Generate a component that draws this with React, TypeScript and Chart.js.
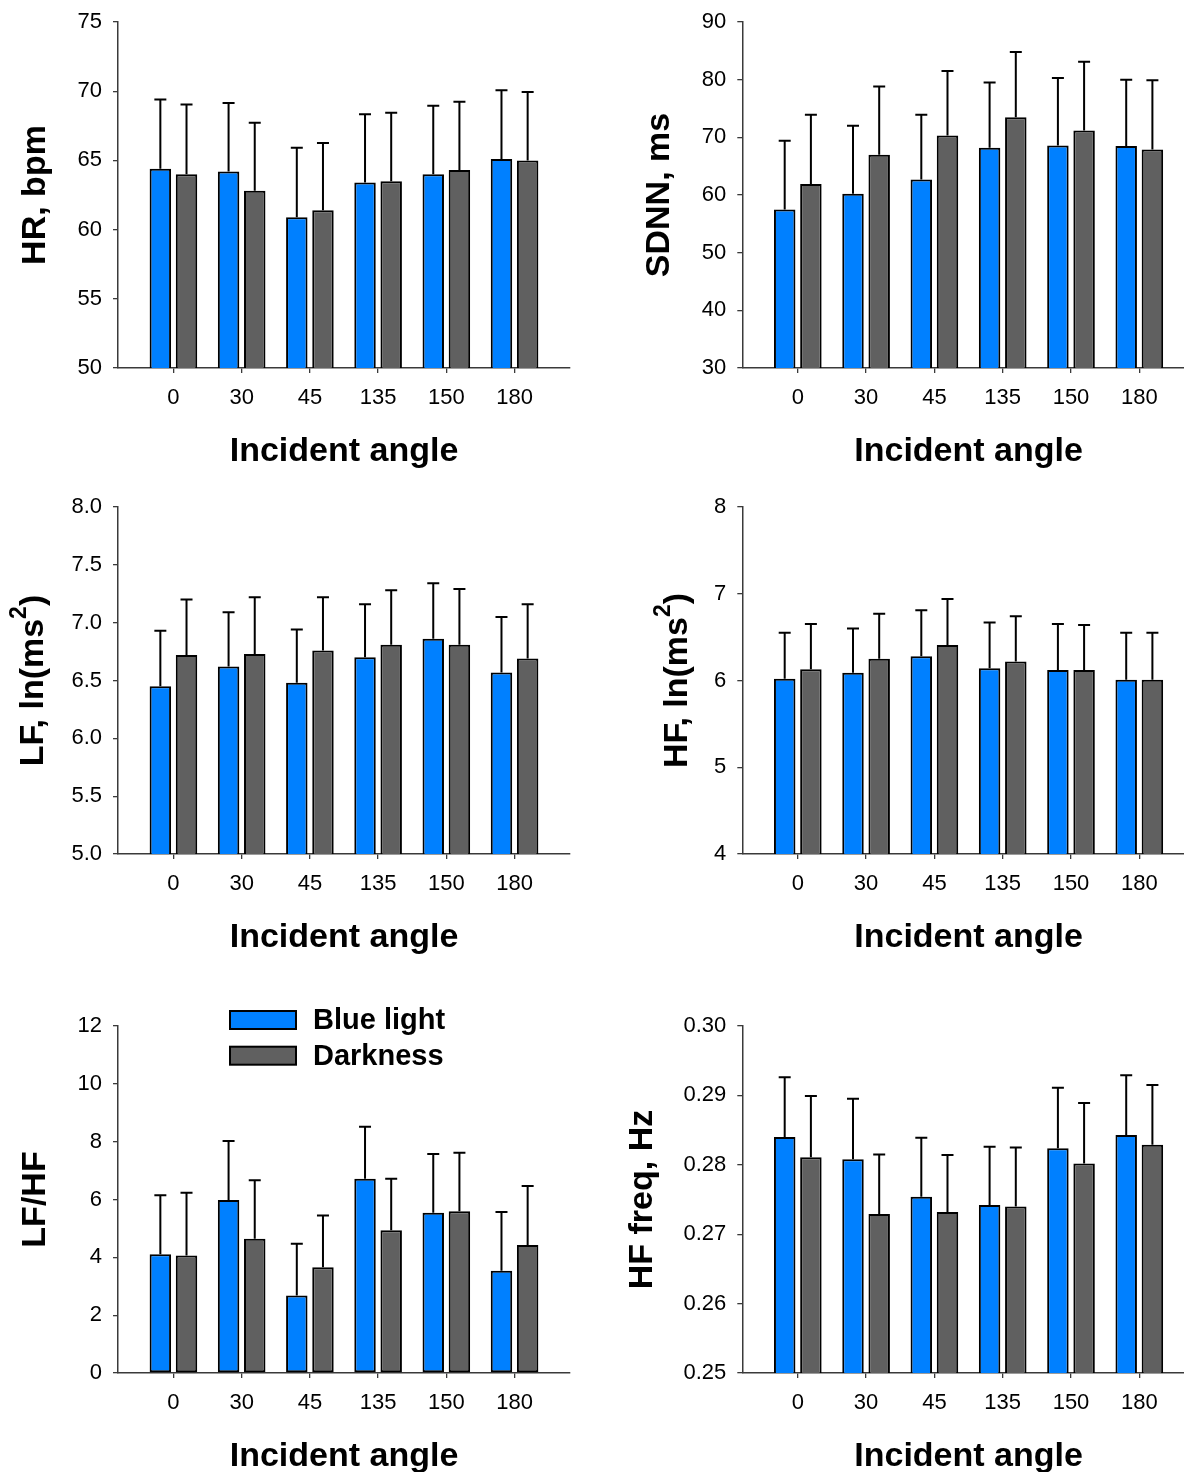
import React, { useEffect, useRef } from 'react';
import { Chart, registerables } from 'chart.js';

Chart.register(...registerables);
Chart.defaults.font.family = '"Liberation Sans", Arial, sans-serif';

// ---------------- data ----------------
const angles = ['0', '30', '45', '135', '150', '180'];
const seriesNames = ['Blue light', 'Darkness'];
const xTitle = 'Incident angle';

const hrBlue = [64.4, 64.2, 60.9, 63.4, 64.0, 65.1];
const hrBlueSD = [5.0, 4.95, 5.02, 4.94, 4.95, 4.97];
const hrDark = [64.0, 62.8, 61.4, 63.5, 64.3, 65.0];
const hrDarkSD = [5.03, 4.92, 4.85, 4.95, 4.94, 4.95];

const sdnnBlue = [57.5, 60.2, 62.7, 68.2, 68.6, 68.5];
const sdnnBlueSD = [11.9, 11.8, 11.2, 11.3, 11.7, 11.5];
const sdnnDark = [61.9, 67.0, 70.3, 73.5, 71.2, 67.9];
const sdnnDarkSD = [12.0, 11.8, 11.2, 11.3, 11.9, 12.0];

const lfBlue = [6.45, 6.62, 6.48, 6.7, 6.86, 6.57];
const lfBlueSD = [0.48, 0.47, 0.46, 0.46, 0.48, 0.48];
const lfDark = [6.72, 6.73, 6.76, 6.81, 6.81, 6.69];
const lfDarkSD = [0.48, 0.49, 0.46, 0.47, 0.48, 0.47];

const hfBlue = [6.02, 6.09, 6.28, 6.14, 6.12, 6.01];
const hfBlueSD = [0.53, 0.51, 0.53, 0.53, 0.53, 0.54];
const hfDark = [6.13, 6.25, 6.41, 6.22, 6.12, 6.01];
const hfDarkSD = [0.52, 0.52, 0.53, 0.52, 0.52, 0.54];

const ratioBlue = [4.11, 5.98, 2.68, 6.72, 5.54, 3.54];
const ratioBlueSD = [2.04, 2.04, 1.79, 1.8, 2.03, 2.03];
const ratioDark = [4.06, 4.64, 3.66, 4.94, 5.59, 4.43];
const ratioDarkSD = [2.17, 2.03, 1.79, 1.78, 2.03, 2.04];

const hffBlue = [0.284, 0.2808, 0.2754, 0.2742, 0.2824, 0.2843];
const hffBlueSD = [0.0086, 0.0087, 0.0085, 0.0084, 0.0087, 0.0086];
const hffDark = [0.2811, 0.2729, 0.2732, 0.274, 0.2802, 0.2829];
const hffDarkSD = [0.0088, 0.0086, 0.0082, 0.0085, 0.0087, 0.0086];

// y-axis titles ('^' marks a superscript character)
const yTitles = ['HR, bpm', 'SDNN, ms', 'LF, ln(ms^2)', 'HF, ln(ms^2)', 'LF/HF', 'HF freq, Hz'];

// ---------------- layout / style ----------------
const BLUE = '#0080FF';
const DARK = '#606060';
const AXIS = '#3a3a3a';
const TOP_PAD = 40;
const X_AXIS_H = 125;

const COLS = [
  { left: 0, width: 592, l: 118, r: 570 },
  { left: 592, width: 620, l: 150.3, r: 602.8 },
];
// absolute top / bottom of each row's plot area
const ROWS = [
  { T: 22.3, B: 368 },
  { T: 506.7, B: 853.3 },
  { T: 1026, B: 1372.7 },
];

type PanelDef = {
  col: number;
  row: number;
  yMin: number;
  yMax: number;
  yStep: number;
  dec: number;
  yTitle: string;
  yTitleX: number;
  blue: number[];
  blueSD: number[];
  dark: number[];
  darkSD: number[];
  legend?: boolean;
};

const PANELS: PanelDef[] = [
  { col: 0, row: 0, yMin: 50, yMax: 75, yStep: 5, dec: 0, yTitle: yTitles[0], yTitleX: 36, blue: hrBlue, blueSD: hrBlueSD, dark: hrDark, darkSD: hrDarkSD },
  { col: 1, row: 0, yMin: 30, yMax: 90, yStep: 10, dec: 0, yTitle: yTitles[1], yTitleX: 68, blue: sdnnBlue, blueSD: sdnnBlueSD, dark: sdnnDark, darkSD: sdnnDarkSD },
  { col: 0, row: 1, yMin: 5, yMax: 8, yStep: 0.5, dec: 1, yTitle: yTitles[2], yTitleX: 34, blue: lfBlue, blueSD: lfBlueSD, dark: lfDark, darkSD: lfDarkSD },
  { col: 1, row: 1, yMin: 4, yMax: 8, yStep: 1, dec: 0, yTitle: yTitles[3], yTitleX: 86, blue: hfBlue, blueSD: hfBlueSD, dark: hfDark, darkSD: hfDarkSD },
  { col: 0, row: 2, yMin: 0, yMax: 12, yStep: 2, dec: 0, yTitle: yTitles[4], yTitleX: 36, blue: ratioBlue, blueSD: ratioBlueSD, dark: ratioDark, darkSD: ratioDarkSD, legend: true },
  { col: 1, row: 2, yMin: 0.25, yMax: 0.3, yStep: 0.01, dec: 2, yTitle: yTitles[5], yTitleX: 51, blue: hffBlue, blueSD: hffBlueSD, dark: hffDark, darkSD: hffDarkSD },
];

const TITLE_SIZE = 34;
const TICK_SIZE = 22;

function drawRichText(ctx: CanvasRenderingContext2D, text: string, size: number) {
  const parts: { t: string; sup: boolean }[] = [];
  const idx = text.indexOf('^');
  if (idx >= 0) {
    parts.push({ t: text.slice(0, idx), sup: false });
    parts.push({ t: text.charAt(idx + 1), sup: true });
    parts.push({ t: text.slice(idx + 2), sup: false });
  } else parts.push({ t: text, sup: false });
  const mainFont = `bold ${size}px "Liberation Sans", Arial, sans-serif`;
  const supFont = `bold ${Math.round(size * 0.68)}px "Liberation Sans", Arial, sans-serif`;
  let total = 0;
  const widths = parts.map((p) => {
    ctx.font = p.sup ? supFont : mainFont;
    const w = ctx.measureText(p.t).width;
    total += w;
    return w;
  });
  let x = -total / 2;
  ctx.textAlign = 'left';
  ctx.textBaseline = 'middle';
  parts.forEach((p, i) => {
    ctx.font = p.sup ? supFont : mainFont;
    ctx.fillText(p.t, x, p.sup ? -size * 0.42 : 0);
    x += widths[i];
  });
}

function makeExtras(def: PanelDef) {
  return {
    id: 'extras',
    afterDatasetsDraw(chart: any) {
      const ctx = chart.ctx as CanvasRenderingContext2D;
      const yScale = chart.scales.y;
      ctx.save();
      ctx.strokeStyle = '#000';
      ctx.lineWidth = 2;
      chart.data.datasets.forEach((ds: any, di: number) => {
        const meta = chart.getDatasetMeta(di);
        meta.data.forEach((el: any, i: number) => {
          const v = ds.data[i].y;
          const yTop = yScale.getPixelForValue(v + ds.errors[i]);
          ctx.beginPath();
          ctx.moveTo(el.x, el.y);
          ctx.lineTo(el.x, yTop);
          ctx.moveTo(el.x - 6, yTop);
          ctx.lineTo(el.x + 6, yTop);
          ctx.stroke();
        });
      });
      ctx.restore();
    },
    afterDraw(chart: any) {
      const ctx = chart.ctx as CanvasRenderingContext2D;
      const area = chart.chartArea;
      ctx.save();
      ctx.fillStyle = '#000';
      const xc = chart.scales.x.getPixelForValue((angles.length - 1) / 2);
      ctx.save();
      ctx.translate(xc, area.bottom + 84);
      drawRichText(ctx, xTitle, TITLE_SIZE);
      ctx.restore();
      ctx.save();
      ctx.translate(def.yTitleX, (area.top + area.bottom) / 2);
      ctx.rotate(-Math.PI / 2);
      drawRichText(ctx, def.yTitle, TITLE_SIZE);
      ctx.restore();
      if (def.legend) {
        const rows = [area.top - 15, area.top + 20.7];
        chart.data.datasets.forEach((ds: any, i: number) => {
          const y0 = rows[i];
          ctx.fillStyle = ds.backgroundColor;
          ctx.fillRect(230, y0, 66, 18);
          ctx.strokeStyle = '#000';
          ctx.lineWidth = 2;
          ctx.strokeRect(230, y0, 66, 18);
          ctx.fillStyle = '#000';
          ctx.font = 'bold 29px "Liberation Sans", Arial, sans-serif';
          ctx.textAlign = 'left';
          ctx.textBaseline = 'middle';
          ctx.fillText(ds.label, 313, y0 + 10);
        });
      }
      ctx.restore();
    },
  };
}

function Panel({ def }: { def: PanelDef }) {
  const ref = useRef<HTMLCanvasElement>(null);
  const col = COLS[def.col];
  const row = ROWS[def.row];
  const canvasTop = row.T - TOP_PAD;
  const canvasH = row.B - row.T + TOP_PAD + X_AXIS_H;
  useEffect(() => {
    if (!ref.current) return;
    const mk = (vals: number[]) => vals.map((v, i) => ({ x: i, y: v }));
    const barStyle = {
      borderColor: '#000',
      borderWidth: 2,
      borderSkipped: false,
      categoryPercentage: 0.767,
      barPercentage: 0.82,
    };
    const chart = new Chart(ref.current, {
      type: 'bar',
      data: {
        datasets: [
          { label: seriesNames[0], data: mk(def.blue), errors: def.blueSD, backgroundColor: BLUE, ...barStyle } as any,
          { label: seriesNames[1], data: mk(def.dark), errors: def.darkSD, backgroundColor: DARK, ...barStyle } as any,
        ],
      },
      options: {
        animation: false,
        responsive: false,
        maintainAspectRatio: false,
        layout: { padding: { top: TOP_PAD, right: col.width - col.r, left: 0, bottom: 0 } },
        plugins: { legend: { display: false }, tooltip: { enabled: false } },
        scales: {
          x: {
            type: 'linear',
            min: -0.8125,
            max: angles.length - 1 + 0.8125,
            offset: false,
            afterBuildTicks: (s: any) => {
              s.ticks = angles.map((_, i) => ({ value: i }));
            },
            afterFit: (s: any) => {
              s.height = X_AXIS_H;
            },
            ticks: {
              autoSkip: false,
              maxRotation: 0,
              includeBounds: false,
              padding: 12,
              color: '#000',
              font: { size: TICK_SIZE },
              callback: (v: any) => angles[v] ?? '',
            },
            grid: { offset: false, drawOnChartArea: false, drawTicks: true, tickLength: 5, color: AXIS, lineWidth: 1.3 },
            border: { color: AXIS, width: 1.5 },
          } as any,
          y: {
            min: def.yMin,
            max: def.yMax,
            afterBuildTicks: (s: any) => {
              const n = Math.round((def.yMax - def.yMin) / def.yStep);
              const t = [];
              for (let i = 0; i <= n; i++) t.push({ value: def.yMin + i * def.yStep });
              s.ticks = t;
            },
            afterFit: (s: any) => {
              s.width = col.l;
            },
            ticks: {
              padding: 11,
              color: '#000',
              font: { size: TICK_SIZE },
              callback: (v: any) => Number(v).toFixed(def.dec),
            },
            grid: { drawOnChartArea: false, drawTicks: true, tickLength: 5, color: AXIS, lineWidth: 1.3 },
            border: { color: AXIS, width: 1.5 },
          } as any,
        },
      },
      plugins: [makeExtras(def)],
    } as any);
    return () => chart.destroy();
  }, []);
  return (
    <canvas
      ref={ref}
      width={col.width}
      height={Math.round(canvasH)}
      style={{ position: 'absolute', left: col.left, top: canvasTop, width: col.width, height: Math.round(canvasH) }}
    />
  );
}

export default function App() {
  return (
    <div style={{ position: 'absolute', left: 0, top: 0, width: 1184, height: 1472, overflow: 'hidden', background: '#fff' }}>
      {PANELS.map((p, i) => (
        <Panel key={i} def={p} />
      ))}
    </div>
  );
}
